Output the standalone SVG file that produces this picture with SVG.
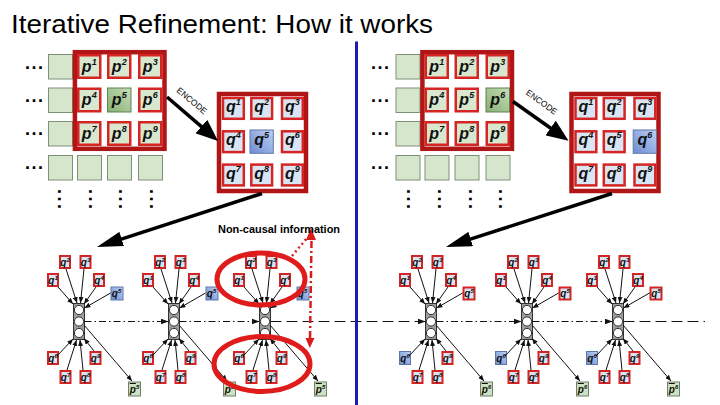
<svg xmlns="http://www.w3.org/2000/svg" width="720" height="405" viewBox="0 0 720 405">
<defs>
<linearGradient id="gB" x1="0" y1="1" x2="1" y2="0"><stop offset="0" stop-color="#6d8dd4"/><stop offset="1" stop-color="#bcd0f2"/></linearGradient>
<linearGradient id="gG" x1="0" y1="1" x2="1" y2="0"><stop offset="0" stop-color="#86b072"/><stop offset="1" stop-color="#c6ddb8"/></linearGradient>
<marker id="mE" markerUnits="userSpaceOnUse" viewBox="0 0 22 18" markerWidth="22" markerHeight="18" refX="2" refY="9" orient="auto"><path d="M0,0L22,9L0,18z" fill="#000"/></marker>
<marker id="mL" markerUnits="userSpaceOnUse" viewBox="0 0 26 15" markerWidth="26" markerHeight="15" refX="2" refY="7.5" orient="auto"><path d="M0,0L26,7.5L0,15z" fill="#000"/></marker>
<marker id="ms" markerUnits="userSpaceOnUse" viewBox="0 0 6 5" markerWidth="6" markerHeight="5" refX="6" refY="2.5" orient="auto"><path d="M0,0L6,2.5L0,5z" fill="#111"/></marker>
<marker id="mh" markerUnits="userSpaceOnUse" viewBox="0 0 8 6" markerWidth="8" markerHeight="6" refX="8" refY="3" orient="auto"><path d="M0,0L8,3L0,6z" fill="#111"/></marker>
</defs>
<style>
.t{font-family:"Liberation Sans",Arial,sans-serif}
.lb{font-family:"Liberation Sans",Arial,sans-serif;font-weight:bold;font-style:italic;fill:#111;text-anchor:middle}
.b{font-size:16px}
.bs{font-size:9px}
.s{font-size:10px}
.ss{font-size:6px}
.dots{font-family:"Liberation Sans",Arial,sans-serif;font-weight:bold;font-size:18px;fill:#000}
.pc{fill:#d6e6cc;stroke:#7f9078;stroke-width:1}
.pr{fill:#d8e7ce;stroke:#d42424;stroke-width:2.5}
.ph{fill:url(#gG);stroke:#5f7f55;stroke-width:1}
.qr{fill:#dae5f3;stroke:#d42424;stroke-width:2.5}
.qh{fill:url(#gB);stroke:#5f77a8;stroke-width:1}
.fr{fill:#fff;stroke:#b01616;stroke-width:4.5}
.qb{fill:#dae5f3;stroke:#d42424;stroke-width:2}
.pb{fill:#cde2c0;stroke:#6f7f68;stroke-width:1}
.stk{fill:#9c9c9c;stroke:#333;stroke-width:1}
.nd{fill:#fff;stroke:#333;stroke-width:1}
.a{stroke:#111;stroke-width:1;fill:none;marker-end:url(#ms)}
.big{stroke:#000;stroke-width:3.5;fill:none}
.dd{stroke:#111;stroke-width:1.2;stroke-dasharray:7 3 1.5 3;fill:none}
.ld{stroke:#111;stroke-width:1.2;stroke-dasharray:11 5;fill:none}
.ell{fill:none;stroke:#e01b1b;stroke-width:5}
.rd{stroke:#d81c1c;stroke-width:2.5;fill:none}
</style>
<rect width="720" height="405" fill="#fff"/>
<text class="t" x="11" y="33" font-size="26" textLength="422" lengthAdjust="spacingAndGlyphs" fill="#000">Iterative Refinement: How it works</text>

<!-- ===== Top-left p grid ===== -->
<g id="grid-p-left">
<text class="dots" x="25" y="68.5" letter-spacing="1.5">...</text>
<text class="dots" x="25" y="102" letter-spacing="1.5">...</text>
<text class="dots" x="25" y="135" letter-spacing="1.5">...</text>
<text class="dots" x="25" y="169" letter-spacing="1.5">...</text>
<text class="dots" transform="translate(57.8,189) rotate(90)" letter-spacing="2.5">...</text>
<text class="dots" transform="translate(88.8,189) rotate(90)" letter-spacing="2.5">...</text>
<text class="dots" transform="translate(119.3,189) rotate(90)" letter-spacing="2.5">...</text>
<text class="dots" transform="translate(150.3,189) rotate(90)" letter-spacing="2.5">...</text>
<rect class="pc" x="48.5" y="54.5" width="24" height="24.5"/>
<rect class="pc" x="48.5" y="88" width="24" height="24.5"/>
<rect class="pc" x="48.5" y="121.5" width="24" height="24.5"/>
<rect class="pc" x="48.5" y="155.5" width="24" height="24.5"/>
<rect class="pc" x="77.5" y="155.5" width="24" height="24.5"/>
<rect class="pc" x="107.5" y="155.5" width="24" height="24.5"/>
<rect class="pc" x="138.5" y="155.5" width="24" height="24.5"/>
<rect class="fr" x="74.9" y="52.2" width="89.6" height="96.6"/>
<rect class="pr" x="78.25" y="55.25" width="22" height="22.5"/>
<rect class="pr" x="108.25" y="55.25" width="22" height="22.5"/>
<rect class="pr" x="139.25" y="55.25" width="22" height="22.5"/>
<rect class="pr" x="78.25" y="88.75" width="22" height="22.5"/>
<rect class="ph" x="107.5" y="88" width="23.5" height="24"/>
<rect class="pr" x="139.25" y="88.75" width="22" height="22.5"/>
<rect class="pr" x="78.25" y="122.25" width="22" height="22.5"/>
<rect class="pr" x="108.25" y="122.25" width="22" height="22.5"/>
<rect class="pr" x="139.25" y="122.25" width="22" height="22.5"/>
<text class="lb b" x="89.25" y="71.5">p<tspan class="bs" dy="-7">1</tspan></text>
<text class="lb b" x="119.25" y="71.5">p<tspan class="bs" dy="-7">2</tspan></text>
<text class="lb b" x="150.25" y="71.5">p<tspan class="bs" dy="-7">3</tspan></text>
<text class="lb b" x="89.25" y="105">p<tspan class="bs" dy="-7">4</tspan></text>
<text class="lb b" x="119.25" y="105">p<tspan class="bs" dy="-7">5</tspan></text>
<text class="lb b" x="150.25" y="105">p<tspan class="bs" dy="-7">6</tspan></text>
<text class="lb b" x="89.25" y="138.5">p<tspan class="bs" dy="-7">7</tspan></text>
<text class="lb b" x="119.25" y="138.5">p<tspan class="bs" dy="-7">8</tspan></text>
<text class="lb b" x="150.25" y="138.5">p<tspan class="bs" dy="-7">9</tspan></text>
</g>

<!-- ===== Top-left q matrix ===== -->
<g id="grid-q-left">
<rect class="fr" x="219" y="94" width="87" height="97"/>
<rect class="qr" x="223" y="98" width="20.8" height="20.8"/>
<rect class="qr" x="251.3" y="98" width="20.8" height="20.8"/>
<rect class="qr" x="282" y="98" width="20.8" height="20.8"/>
<rect class="qr" x="223" y="131.3" width="20.8" height="20.8"/>
<rect class="qh" x="250" y="130" width="23.3" height="23.3"/>
<rect class="qr" x="282" y="131.3" width="20.8" height="20.8"/>
<rect class="qr" x="223" y="164.6" width="20.8" height="20.8"/>
<rect class="qr" x="251.3" y="164.6" width="20.8" height="20.8"/>
<rect class="qr" x="282" y="164.6" width="20.8" height="20.8"/>
<text class="lb b" x="233.3" y="112">q<tspan class="bs" dy="-7">1</tspan></text>
<text class="lb b" x="261.7" y="112">q<tspan class="bs" dy="-7">2</tspan></text>
<text class="lb b" x="292.3" y="112">q<tspan class="bs" dy="-7">3</tspan></text>
<text class="lb b" x="233.3" y="145.3">q<tspan class="bs" dy="-7">4</tspan></text>
<text class="lb b" x="261.7" y="145.3">q<tspan class="bs" dy="-7">5</tspan></text>
<text class="lb b" x="292.3" y="145.3">q<tspan class="bs" dy="-7">6</tspan></text>
<text class="lb b" x="233.3" y="178.6">q<tspan class="bs" dy="-7">7</tspan></text>
<text class="lb b" x="261.7" y="178.6">q<tspan class="bs" dy="-7">8</tspan></text>
<text class="lb b" x="292.3" y="178.6">q<tspan class="bs" dy="-7">9</tspan></text>
</g>

<!-- ===== Top-right p grid ===== -->
<g id="grid-p-right">
<text class="dots" x="371" y="68.5" letter-spacing="1.5">...</text>
<text class="dots" x="371" y="102" letter-spacing="1.5">...</text>
<text class="dots" x="371" y="135" letter-spacing="1.5">...</text>
<text class="dots" x="371" y="169" letter-spacing="1.5">...</text>
<text class="dots" transform="translate(407.3,189) rotate(90)" letter-spacing="2.5">...</text>
<text class="dots" transform="translate(438.3,189) rotate(90)" letter-spacing="2.5">...</text>
<text class="dots" transform="translate(468.8,189) rotate(90)" letter-spacing="2.5">...</text>
<text class="dots" transform="translate(498.8,189) rotate(90)" letter-spacing="2.5">...</text>
<rect class="pc" x="396" y="54.5" width="24" height="24.5"/>
<rect class="pc" x="396" y="88" width="24" height="24.5"/>
<rect class="pc" x="396" y="121.5" width="24" height="24.5"/>
<rect class="pc" x="396" y="155.5" width="24" height="24.5"/>
<rect class="pc" x="425" y="155.5" width="24" height="24.5"/>
<rect class="pc" x="455" y="155.5" width="24" height="24.5"/>
<rect class="pc" x="486" y="155.5" width="24" height="24.5"/>
<rect class="fr" x="422.4" y="52.2" width="89.6" height="96.6"/>
<rect class="pr" x="425.75" y="55.25" width="22" height="22.5"/>
<rect class="pr" x="455.75" y="55.25" width="22" height="22.5"/>
<rect class="pr" x="486.75" y="55.25" width="22" height="22.5"/>
<rect class="pr" x="425.75" y="88.75" width="22" height="22.5"/>
<rect class="pr" x="455.75" y="88.75" width="22" height="22.5"/>
<rect class="ph" x="486" y="88" width="23.5" height="24"/>
<rect class="pr" x="425.75" y="122.25" width="22" height="22.5"/>
<rect class="pr" x="455.75" y="122.25" width="22" height="22.5"/>
<rect class="pr" x="486.75" y="122.25" width="22" height="22.5"/>
<text class="lb b" x="436.75" y="71.5">p<tspan class="bs" dy="-7">1</tspan></text>
<text class="lb b" x="466.75" y="71.5">p<tspan class="bs" dy="-7">2</tspan></text>
<text class="lb b" x="497.75" y="71.5">p<tspan class="bs" dy="-7">3</tspan></text>
<text class="lb b" x="436.75" y="105">p<tspan class="bs" dy="-7">4</tspan></text>
<text class="lb b" x="466.75" y="105">p<tspan class="bs" dy="-7">5</tspan></text>
<text class="lb b" x="497.75" y="105">p<tspan class="bs" dy="-7">6</tspan></text>
<text class="lb b" x="436.75" y="138.5">p<tspan class="bs" dy="-7">7</tspan></text>
<text class="lb b" x="466.75" y="138.5">p<tspan class="bs" dy="-7">8</tspan></text>
<text class="lb b" x="497.75" y="138.5">p<tspan class="bs" dy="-7">9</tspan></text>
</g>

<!-- ===== Top-right q matrix ===== -->
<g id="grid-q-right">
<rect class="fr" x="571.5" y="94" width="87" height="97"/>
<rect class="qr" x="575.5" y="98" width="20.8" height="20.8"/>
<rect class="qr" x="603.8" y="98" width="20.8" height="20.8"/>
<rect class="qr" x="634.5" y="98" width="20.8" height="20.8"/>
<rect class="qr" x="575.5" y="131.3" width="20.8" height="20.8"/>
<rect class="qr" x="603.8" y="131.3" width="20.8" height="20.8"/>
<rect class="qh" x="633.2" y="130" width="23.3" height="23.3"/>
<rect class="qr" x="575.5" y="164.6" width="20.8" height="20.8"/>
<rect class="qr" x="603.8" y="164.6" width="20.8" height="20.8"/>
<rect class="qr" x="634.5" y="164.6" width="20.8" height="20.8"/>
<text class="lb b" x="585.8" y="112">q<tspan class="bs" dy="-7">1</tspan></text>
<text class="lb b" x="614.2" y="112">q<tspan class="bs" dy="-7">2</tspan></text>
<text class="lb b" x="644.8" y="112">q<tspan class="bs" dy="-7">3</tspan></text>
<text class="lb b" x="585.8" y="145.3">q<tspan class="bs" dy="-7">4</tspan></text>
<text class="lb b" x="614.2" y="145.3">q<tspan class="bs" dy="-7">5</tspan></text>
<text class="lb b" x="644.8" y="145.3">q<tspan class="bs" dy="-7">6</tspan></text>
<text class="lb b" x="585.8" y="178.6">q<tspan class="bs" dy="-7">7</tspan></text>
<text class="lb b" x="614.2" y="178.6">q<tspan class="bs" dy="-7">8</tspan></text>
<text class="lb b" x="644.8" y="178.6">q<tspan class="bs" dy="-7">9</tspan></text>
</g>

<!-- ===== Bottom units ===== -->
<g id="unit-L1">
<g id="L1-stack"><rect class="stk" x="73.5" y="303.5" width="11" height="36"/><circle class="nd" cx="79" cy="310" r="4.6"/><circle class="nd" cx="79" cy="321.5" r="4.6"/><circle class="nd" cx="79" cy="333" r="4.6"/></g>
<g id="L1-q2"><rect class="qb" x="60" y="256" width="10" height="12"/><text class="lb s" x="65" y="265.5">q<tspan class="ss" dy="-4">2</tspan></text></g>
<g id="L1-q3"><rect class="qb" x="80.5" y="256" width="10" height="12"/><text class="lb s" x="85.5" y="265.5">q<tspan class="ss" dy="-4">3</tspan></text></g>
<g id="L1-q1"><rect class="qb" x="48" y="274" width="10" height="12"/><text class="lb s" x="53" y="283.5">q<tspan class="ss" dy="-4">1</tspan></text></g>
<g id="L1-q4"><rect class="qb" x="94" y="274" width="10" height="12"/><text class="lb s" x="99" y="283.5">q<tspan class="ss" dy="-4">4</tspan></text></g>
<g id="L1-q5"><rect class="qh" x="111" y="287" width="12" height="13"/><text class="lb s" x="116.5" y="297">q<tspan class="ss" dy="-4">5</tspan></text></g>
<g id="L1-q6"><rect class="qb" x="48" y="352" width="10" height="12"/><text class="lb s" x="53" y="361.5">q<tspan class="ss" dy="-4">6</tspan></text></g>
<g id="L1-q9"><rect class="qb" x="90.5" y="352" width="10" height="12"/><text class="lb s" x="95.5" y="361.5">q<tspan class="ss" dy="-4">9</tspan></text></g>
<g id="L1-q7"><rect class="qb" x="60.5" y="371" width="10" height="12"/><text class="lb s" x="65.5" y="380.5">q<tspan class="ss" dy="-4">7</tspan></text></g>
<g id="L1-q8"><rect class="qb" x="80.5" y="371" width="10" height="12"/><text class="lb s" x="85.5" y="380.5">q<tspan class="ss" dy="-4">8</tspan></text></g>
<g id="L1-p"><rect class="pb" x="128.5" y="382" width="12" height="14"/><text class="lb s" x="134.5" y="393"><tspan text-decoration="overline">p</tspan><tspan class="ss" dy="-4">5</tspan></text></g>
</g>

<g id="unit-L2">
<g id="L2-stack"><rect class="stk" x="168.5" y="303.5" width="11" height="36"/><circle class="nd" cx="174" cy="310" r="4.6"/><circle class="nd" cx="174" cy="321.5" r="4.6"/><circle class="nd" cx="174" cy="333" r="4.6"/></g>
<g id="L2-q2"><rect class="qb" x="155" y="256" width="10" height="12"/><text class="lb s" x="160" y="265.5">q<tspan class="ss" dy="-4">2</tspan></text></g>
<g id="L2-q3"><rect class="qb" x="175.5" y="256" width="10" height="12"/><text class="lb s" x="180.5" y="265.5">q<tspan class="ss" dy="-4">3</tspan></text></g>
<g id="L2-q1"><rect class="qb" x="143" y="274" width="10" height="12"/><text class="lb s" x="148" y="283.5">q<tspan class="ss" dy="-4">1</tspan></text></g>
<g id="L2-q4"><rect class="qb" x="189" y="274" width="10" height="12"/><text class="lb s" x="194" y="283.5">q<tspan class="ss" dy="-4">4</tspan></text></g>
<g id="L2-q5"><rect class="qh" x="206" y="287" width="12" height="13"/><text class="lb s" x="211.5" y="297">q<tspan class="ss" dy="-4">5</tspan></text></g>
<g id="L2-q6"><rect class="qb" x="143" y="352" width="10" height="12"/><text class="lb s" x="148" y="361.5">q<tspan class="ss" dy="-4">6</tspan></text></g>
<g id="L2-q9"><rect class="qb" x="185.5" y="352" width="10" height="12"/><text class="lb s" x="190.5" y="361.5">q<tspan class="ss" dy="-4">9</tspan></text></g>
<g id="L2-q7"><rect class="qb" x="155.5" y="371" width="10" height="12"/><text class="lb s" x="160.5" y="380.5">q<tspan class="ss" dy="-4">7</tspan></text></g>
<g id="L2-q8"><rect class="qb" x="175.5" y="371" width="10" height="12"/><text class="lb s" x="180.5" y="380.5">q<tspan class="ss" dy="-4">8</tspan></text></g>
<g id="L2-p"><rect class="pb" x="223.5" y="382" width="12" height="14"/><text class="lb s" x="229.5" y="393"><tspan text-decoration="overline">p</tspan><tspan class="ss" dy="-4">5</tspan></text></g>
</g>

<g id="unit-L3">
<g id="L3-stack"><rect class="stk" x="259.5" y="303.5" width="11" height="36"/><circle class="nd" cx="265" cy="310" r="4.6"/><circle class="nd" cx="265" cy="321.5" r="4.6"/><circle class="nd" cx="265" cy="333" r="4.6"/></g>
<g id="L3-q2"><rect class="qb" x="246" y="256" width="10" height="12"/><text class="lb s" x="251" y="265.5">q<tspan class="ss" dy="-4">2</tspan></text></g>
<g id="L3-q3"><rect class="qb" x="266.5" y="256" width="10" height="12"/><text class="lb s" x="271.5" y="265.5">q<tspan class="ss" dy="-4">3</tspan></text></g>
<g id="L3-q1"><rect class="qb" x="234" y="274" width="10" height="12"/><text class="lb s" x="239" y="283.5">q<tspan class="ss" dy="-4">1</tspan></text></g>
<g id="L3-q4"><rect class="qb" x="280" y="274" width="10" height="12"/><text class="lb s" x="285" y="283.5">q<tspan class="ss" dy="-4">4</tspan></text></g>
<g id="L3-q5"><rect class="qh" x="297" y="287" width="12" height="13"/><text class="lb s" x="302.5" y="297">q<tspan class="ss" dy="-4">5</tspan></text></g>
<g id="L3-q6"><rect class="qb" x="234" y="352" width="10" height="12"/><text class="lb s" x="239" y="361.5">q<tspan class="ss" dy="-4">6</tspan></text></g>
<g id="L3-q9"><rect class="qb" x="276.5" y="352" width="10" height="12"/><text class="lb s" x="281.5" y="361.5">q<tspan class="ss" dy="-4">9</tspan></text></g>
<g id="L3-q7"><rect class="qb" x="246.5" y="371" width="10" height="12"/><text class="lb s" x="251.5" y="380.5">q<tspan class="ss" dy="-4">7</tspan></text></g>
<g id="L3-q8"><rect class="qb" x="266.5" y="371" width="10" height="12"/><text class="lb s" x="271.5" y="380.5">q<tspan class="ss" dy="-4">8</tspan></text></g>
<g id="L3-p"><rect class="pb" x="314.5" y="382" width="12" height="14"/><text class="lb s" x="320.5" y="393"><tspan text-decoration="overline">p</tspan><tspan class="ss" dy="-4">5</tspan></text></g>
</g>

<g id="unit-R1">
<g id="R1-stack"><rect class="stk" x="425.5" y="303.5" width="11" height="36"/><circle class="nd" cx="431" cy="310" r="4.6"/><circle class="nd" cx="431" cy="321.5" r="4.6"/><circle class="nd" cx="431" cy="333" r="4.6"/></g>
<g id="R1-q2"><rect class="qb" x="412" y="256" width="10" height="12"/><text class="lb s" x="417" y="265.5">q<tspan class="ss" dy="-4">2</tspan></text></g>
<g id="R1-q3"><rect class="qb" x="432.5" y="256" width="10" height="12"/><text class="lb s" x="437.5" y="265.5">q<tspan class="ss" dy="-4">3</tspan></text></g>
<g id="R1-q1"><rect class="qb" x="400" y="274" width="10" height="12"/><text class="lb s" x="405" y="283.5">q<tspan class="ss" dy="-4">1</tspan></text></g>
<g id="R1-q4"><rect class="qb" x="446" y="274" width="10" height="12"/><text class="lb s" x="451" y="283.5">q<tspan class="ss" dy="-4">4</tspan></text></g>
<g id="R1-q5"><rect class="qb" x="463.5" y="287.5" width="11" height="12"/><text class="lb s" x="469" y="297">q<tspan class="ss" dy="-4">5</tspan></text></g>
<g id="R1-q6"><rect class="qh" x="399.5" y="351.5" width="11" height="13"/><text class="lb s" x="405" y="361.5">q<tspan class="ss" dy="-4">6</tspan></text></g>
<g id="R1-q9"><rect class="qb" x="442.5" y="352" width="10" height="12"/><text class="lb s" x="447.5" y="361.5">q<tspan class="ss" dy="-4">9</tspan></text></g>
<g id="R1-q7"><rect class="qb" x="412.5" y="371" width="10" height="12"/><text class="lb s" x="417.5" y="380.5">q<tspan class="ss" dy="-4">7</tspan></text></g>
<g id="R1-q8"><rect class="qb" x="432.5" y="371" width="10" height="12"/><text class="lb s" x="437.5" y="380.5">q<tspan class="ss" dy="-4">8</tspan></text></g>
<g id="R1-p"><rect class="pb" x="480.5" y="382" width="12" height="14"/><text class="lb s" x="486.5" y="393"><tspan text-decoration="overline">p</tspan><tspan class="ss" dy="-4">6</tspan></text></g>
</g>

<g id="unit-R2">
<g id="R2-stack"><rect class="stk" x="521.5" y="303.5" width="11" height="36"/><circle class="nd" cx="527" cy="310" r="4.6"/><circle class="nd" cx="527" cy="321.5" r="4.6"/><circle class="nd" cx="527" cy="333" r="4.6"/></g>
<g id="R2-q2"><rect class="qb" x="508" y="256" width="10" height="12"/><text class="lb s" x="513" y="265.5">q<tspan class="ss" dy="-4">2</tspan></text></g>
<g id="R2-q3"><rect class="qb" x="528.5" y="256" width="10" height="12"/><text class="lb s" x="533.5" y="265.5">q<tspan class="ss" dy="-4">3</tspan></text></g>
<g id="R2-q1"><rect class="qb" x="496" y="274" width="10" height="12"/><text class="lb s" x="501" y="283.5">q<tspan class="ss" dy="-4">1</tspan></text></g>
<g id="R2-q4"><rect class="qb" x="542" y="274" width="10" height="12"/><text class="lb s" x="547" y="283.5">q<tspan class="ss" dy="-4">4</tspan></text></g>
<g id="R2-q5"><rect class="qb" x="559.5" y="287.5" width="11" height="12"/><text class="lb s" x="565" y="297">q<tspan class="ss" dy="-4">5</tspan></text></g>
<g id="R2-q6"><rect class="qh" x="495.5" y="351.5" width="11" height="13"/><text class="lb s" x="501" y="361.5">q<tspan class="ss" dy="-4">6</tspan></text></g>
<g id="R2-q9"><rect class="qb" x="538.5" y="352" width="10" height="12"/><text class="lb s" x="543.5" y="361.5">q<tspan class="ss" dy="-4">9</tspan></text></g>
<g id="R2-q7"><rect class="qb" x="508.5" y="371" width="10" height="12"/><text class="lb s" x="513.5" y="380.5">q<tspan class="ss" dy="-4">7</tspan></text></g>
<g id="R2-q8"><rect class="qb" x="528.5" y="371" width="10" height="12"/><text class="lb s" x="533.5" y="380.5">q<tspan class="ss" dy="-4">8</tspan></text></g>
<g id="R2-p"><rect class="pb" x="576.5" y="382" width="12" height="14"/><text class="lb s" x="582.5" y="393"><tspan text-decoration="overline">p</tspan><tspan class="ss" dy="-4">6</tspan></text></g>
</g>

<g id="unit-R3">
<g id="R3-stack"><rect class="stk" x="612.5" y="303.5" width="11" height="36"/><circle class="nd" cx="618" cy="310" r="4.6"/><circle class="nd" cx="618" cy="321.5" r="4.6"/><circle class="nd" cx="618" cy="333" r="4.6"/></g>
<g id="R3-q2"><rect class="qb" x="599" y="256" width="10" height="12"/><text class="lb s" x="604" y="265.5">q<tspan class="ss" dy="-4">2</tspan></text></g>
<g id="R3-q3"><rect class="qb" x="619.5" y="256" width="10" height="12"/><text class="lb s" x="624.5" y="265.5">q<tspan class="ss" dy="-4">3</tspan></text></g>
<g id="R3-q1"><rect class="qb" x="587" y="274" width="10" height="12"/><text class="lb s" x="592" y="283.5">q<tspan class="ss" dy="-4">1</tspan></text></g>
<g id="R3-q4"><rect class="qb" x="633" y="274" width="10" height="12"/><text class="lb s" x="638" y="283.5">q<tspan class="ss" dy="-4">4</tspan></text></g>
<g id="R3-q5"><rect class="qb" x="650.5" y="287.5" width="11" height="12"/><text class="lb s" x="656" y="297">q<tspan class="ss" dy="-4">5</tspan></text></g>
<g id="R3-q6"><rect class="qh" x="586.5" y="351.5" width="11" height="13"/><text class="lb s" x="592" y="361.5">q<tspan class="ss" dy="-4">6</tspan></text></g>
<g id="R3-q9"><rect class="qb" x="629.5" y="352" width="10" height="12"/><text class="lb s" x="634.5" y="361.5">q<tspan class="ss" dy="-4">9</tspan></text></g>
<g id="R3-q7"><rect class="qb" x="599.5" y="371" width="10" height="12"/><text class="lb s" x="604.5" y="380.5">q<tspan class="ss" dy="-4">7</tspan></text></g>
<g id="R3-q8"><rect class="qb" x="619.5" y="371" width="10" height="12"/><text class="lb s" x="624.5" y="380.5">q<tspan class="ss" dy="-4">8</tspan></text></g>
<g id="R3-p"><rect class="pb" x="667.5" y="382" width="12" height="14"/><text class="lb s" x="673.5" y="393"><tspan text-decoration="overline">p</tspan><tspan class="ss" dy="-4">6</tspan></text></g>
</g>

<!-- ===== Connectors ===== -->
<g id="connectors">
<line class="big" x1="167" y1="97" x2="202.9" y2="127.9" marker-end="url(#mE)"/>
<line class="big" x1="513" y1="101.5" x2="552.2" y2="129.2" marker-end="url(#mE)"/>
<line class="big" x1="262" y1="193.5" x2="119.8" y2="239.6" marker-end="url(#mL)"/>
<line class="big" x1="612" y1="193.5" x2="468.8" y2="239.6" marker-end="url(#mL)"/>
<text class="t" font-size="8.5" text-anchor="middle" transform="translate(190,103) rotate(40)">ENCODE</text>
<text class="t" font-size="8.5" text-anchor="middle" transform="translate(540,104.5) rotate(36)">ENCODE</text>

<line class="dd" x1="84.5" y1="321.5" x2="168.5" y2="321.5" marker-end="url(#mh)"/>
<line class="dd" x1="179.5" y1="321.5" x2="259.5" y2="321.5" marker-end="url(#mh)"/>
<line class="ld" x1="270.5" y1="321.5" x2="425.5" y2="321.5" marker-end="url(#mh)"/>
<line class="dd" x1="436.5" y1="321.5" x2="521.5" y2="321.5" marker-end="url(#mh)"/>
<line class="dd" x1="532.5" y1="321.5" x2="612.5" y2="321.5" marker-end="url(#mh)"/>
<line class="ld" x1="623.5" y1="321.5" x2="705" y2="321.5"/>

<line class="a" x1="58" y1="287" x2="73" y2="304"/><line class="a" x1="66" y1="269" x2="77" y2="303"/><line class="a" x1="84" y1="269" x2="80.5" y2="303"/><line class="a" x1="96" y1="287" x2="84" y2="304"/><line class="a" x1="110.5" y1="293" x2="84.5" y2="308"/><line class="a" x1="57" y1="356" x2="73" y2="339"/><line class="a" x1="67" y1="370" x2="76.5" y2="340"/><line class="a" x1="83" y1="370" x2="80" y2="340"/><line class="a" x1="94" y1="351" x2="84" y2="338.5"/><line class="a" x1="84" y1="325" x2="132" y2="381"/>
<line class="a" x1="153" y1="287" x2="168" y2="304"/><line class="a" x1="161" y1="269" x2="172" y2="303"/><line class="a" x1="179" y1="269" x2="175.5" y2="303"/><line class="a" x1="191" y1="287" x2="179" y2="304"/><line class="a" x1="205.5" y1="293" x2="179.5" y2="308"/><line class="a" x1="152" y1="356" x2="168" y2="339"/><line class="a" x1="162" y1="370" x2="171.5" y2="340"/><line class="a" x1="178" y1="370" x2="175" y2="340"/><line class="a" x1="189" y1="351" x2="179" y2="338.5"/><line class="a" x1="179" y1="325" x2="227" y2="381"/>
<line class="a" x1="244" y1="287" x2="259" y2="304"/><line class="a" x1="252" y1="269" x2="263" y2="303"/><line class="a" x1="270" y1="269" x2="266.5" y2="303"/><line class="a" x1="282" y1="287" x2="270" y2="304"/><line class="a" x1="296.5" y1="293" x2="270.5" y2="308"/><line class="a" x1="243" y1="356" x2="259" y2="339"/><line class="a" x1="253" y1="370" x2="262.5" y2="340"/><line class="a" x1="269" y1="370" x2="266" y2="340"/><line class="a" x1="280" y1="351" x2="270" y2="338.5"/><line class="a" x1="270" y1="325" x2="318" y2="381"/>
<line class="a" x1="410" y1="287" x2="425" y2="304"/><line class="a" x1="418" y1="269" x2="429" y2="303"/><line class="a" x1="436" y1="269" x2="432.5" y2="303"/><line class="a" x1="448" y1="287" x2="436" y2="304"/><line class="a" x1="462.5" y1="293" x2="436.5" y2="308"/><line class="a" x1="409" y1="356" x2="425" y2="339"/><line class="a" x1="419" y1="370" x2="428.5" y2="340"/><line class="a" x1="435" y1="370" x2="432" y2="340"/><line class="a" x1="446" y1="351" x2="436" y2="338.5"/><line class="a" x1="436" y1="325" x2="484" y2="381"/>
<line class="a" x1="506" y1="287" x2="521" y2="304"/><line class="a" x1="514" y1="269" x2="525" y2="303"/><line class="a" x1="532" y1="269" x2="528.5" y2="303"/><line class="a" x1="544" y1="287" x2="532" y2="304"/><line class="a" x1="558.5" y1="293" x2="532.5" y2="308"/><line class="a" x1="505" y1="356" x2="521" y2="339"/><line class="a" x1="515" y1="370" x2="524.5" y2="340"/><line class="a" x1="531" y1="370" x2="528" y2="340"/><line class="a" x1="542" y1="351" x2="532" y2="338.5"/><line class="a" x1="532" y1="325" x2="580" y2="381"/>
<line class="a" x1="597" y1="287" x2="612" y2="304"/><line class="a" x1="605" y1="269" x2="616" y2="303"/><line class="a" x1="623" y1="269" x2="619.5" y2="303"/><line class="a" x1="635" y1="287" x2="623" y2="304"/><line class="a" x1="649.5" y1="293" x2="623.5" y2="308"/><line class="a" x1="596" y1="356" x2="612" y2="339"/><line class="a" x1="606" y1="370" x2="615.5" y2="340"/><line class="a" x1="622" y1="370" x2="619" y2="340"/><line class="a" x1="633" y1="351" x2="623" y2="338.5"/><line class="a" x1="623" y1="325" x2="671" y2="381"/>
</g>

<line x1="356.5" y1="41.5" x2="356.5" y2="405" stroke="#1c1cb4" stroke-width="3"/>

<g id="highlight">
<ellipse class="ell" cx="261" cy="279" rx="44" ry="26"/>
<ellipse class="ell" cx="262" cy="364" rx="48" ry="27.5"/>
<line class="rd" x1="292" y1="256" x2="307" y2="238" stroke-dasharray="2 3"/>
<polygon points="311,228 306,240 316,240" fill="#d81c1c"/>
<line class="rd" x1="311.5" y1="241" x2="310" y2="339" stroke-dasharray="7 3 2 3"/>
<polygon points="305.5,338 314.5,338 309.8,348" fill="#d81c1c"/>
<text x="218" y="232.5" font-family="'Liberation Sans Narrow','Liberation Sans',Arial,sans-serif" font-weight="bold" font-size="11.5" textLength="122" lengthAdjust="spacingAndGlyphs" fill="#000">Non-causal information</text>
</g>
</svg>
